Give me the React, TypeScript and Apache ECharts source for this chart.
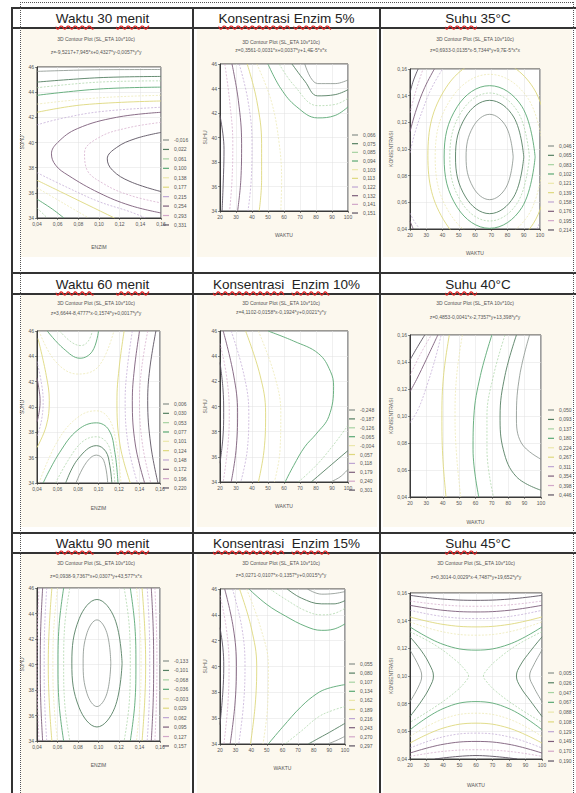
import React, { useEffect, useRef } from "react";
import * as echarts from "echarts";

type Pt = [number, number];
type Piece = [number, Pt[]];

// ---------- texts ----------
const headerTexts = [
  ["Waktu 30 menit", "Konsentrasi Enzim 5%", "Suhu 35°C"],
  ["Waktu 60 menit", "Konsentrasi  Enzim 10%", "Suhu 40°C"],
  ["Waktu 90 menit", "Konsentrasi  Enzim 15%", "Suhu 45°C"],
];
const misspelled = ["Waktu", "menit", "Konsentrasi", "Enzim", "Suhu"];
const plotTitle = "3D Contour Plot (SL_ETA 10v*10c)";
const equations = [
  "z=-9,5217+7,945*x+0,4327*y-0,0057*y*y",
  "z=0,3561-0,0031*x+0,0037*y+1,4E-5*x*x",
  "z=0,6933-0,0135*x-5,7344*y+9,7E-5*x*x",
  "z=3,6644-8,4777*x-0,1574*y+0,0017*y*y",
  "z=4,1102-0,0158*x-0,1924*y+0,0021*y*y",
  "z=0,4853-0,0041*x-2,7357*y+13,398*y*y",
  "z=0,0938-9,7367*x+0,0307*y+43,577*x*x",
  "z=3,0271-0,0107*x-0,1357*y+0,0015*y*y",
  "z=0,3014-0,0029*x-4,7487*y+19,652*y*y",
];

// ---------- axis ticks ----------
const enzimTicks = [0.04, 0.06, 0.08, 0.1, 0.12, 0.14, 0.16];
const enzimStep = 0.02;
const suhuTicks = [34, 36, 38, 40, 42, 44, 46];
const suhuStep = 2;
const waktuTicks = [20, 30, 40, 50, 60, 70, 80, 90, 100];
const waktuStep = 10;

// ---------- legend levels ----------
const c1Levels = ["-0,016", "0,022", "0,061", "0,100", "0,138", "0,177", "0,215", "0,254", "0,293", "0,331"];
const c2Levels = ["0,066", "0,075", "0,085", "0,094", "0,103", "0,113", "0,122", "0,132", "0,141", "0,151"];
const c3Levels = ["0,046", "0,065", "0,083", "0,102", "0,121", "0,139", "0,158", "0,176", "0,195", "0,214"];
const c4Levels = ["0,006", "0,030", "0,053", "0,077", "0,101", "0,124", "0,148", "0,172", "0,196", "0,220"];
const c5Levels = ["-0,248", "-0,187", "-0,126", "-0,065", "-0,004", "0,057", "0,118", "0,179", "0,240", "0,301"];
const c6Levels = ["0,050", "0,093", "0,137", "0,180", "0,224", "0,267", "0,311", "0,354", "0,398", "0,446"];
const c7Levels = ["-0,133", "-0,101", "-0,068", "-0,036", "-0,003", "0,029", "0,062", "0,095", "0,127", "0,157"];
const c8Levels = ["0,055", "0,080", "0,107", "0,134", "0,162", "0,189", "0,216", "0,243", "0,270", "0,297"];
const c9Levels = ["0,005", "0,026", "0,047", "0,067", "0,088", "0,108", "0,129", "0,149", "0,170", "0,190"];

// ---------- contour lines [level, points] ----------
const c1Contours: Piece[] = [
  [9, [[0.16, 40.8], [0.135, 40.3], [0.117, 39.6], [0.108, 38.7], [0.113, 37.8], [0.13, 36.9], [0.16, 36.1]]],
  [8, [[0.16, 41.6], [0.127, 41.15], [0.1, 40.4], [0.086, 39.2], [0.088, 37.9], [0.105, 36.7], [0.13, 35.8], [0.16, 35.2]]],
  [7, [[0.16, 42.4], [0.117, 42.0], [0.079, 41.1], [0.06, 40.0], [0.054, 39.1], [0.058, 38.2], [0.07, 37.4], [0.1, 36.0], [0.13, 35.0], [0.16, 34.4]]],
  [6, [[0.04, 41.4], [0.063, 41.9], [0.101, 42.45], [0.16, 42.8]]],
  [6, [[0.04, 37.6], [0.07, 36.4], [0.1, 35.3], [0.13, 34.5], [0.145, 34]]],
  [5, [[0.04, 42.4], [0.085, 43.0], [0.16, 43.3]]],
  [5, [[0.04, 37.0], [0.07, 35.8], [0.095, 34.8], [0.115, 34]]],
  [4, [[0.04, 43.05], [0.1, 43.55], [0.16, 43.75]]],
  [4, [[0.04, 36.4], [0.065, 35.2], [0.09, 34]]],
  [3, [[0.04, 43.75], [0.1, 44.25], [0.16, 44.4]]],
  [3, [[0.04, 35.5], [0.055, 34.7], [0.066, 34]]],
  [2, [[0.04, 44.35], [0.1, 44.8], [0.16, 44.9]]],
  [2, [[0.04, 34.8], [0.05, 34]]],
  [1, [[0.04, 44.8], [0.1, 45.15], [0.16, 45.25]]],
  [0, [[0.04, 45.65], [0.1, 45.78], [0.16, 45.8]]],
];

const c2Contours: Piece[] = [
  [9, [[20, 41.8], [21.8, 40.3], [22.5, 39], [22.2, 37], [21.3, 34]]],
  [8, [[23, 46], [26, 43], [28, 39.5], [27.5, 36.5], [26, 34]]],
  [7, [[27.5, 46], [31.5, 43], [33.5, 39.5], [33, 36.5], [31, 34]]],
  [6, [[32, 46], [37.5, 43], [40, 39.5], [39.5, 36.5], [37.5, 34]]],
  [5, [[37, 46], [43, 43], [46, 39.5], [46, 36.5], [44.5, 34]]],
  [4, [[43, 46], [52, 43], [57, 39.5], [58.5, 36.5], [58, 34]]],
  [3, [[50, 46], [58, 44], [68, 42.5], [81, 41.6], [92, 41.8], [100, 42.5]]],
  [2, [[57, 46], [66, 44.3], [81, 42.6], [92, 42.7], [100, 43.2]]],
  [1, [[65, 46], [73, 44.6], [81, 43.4], [92, 43.5], [100, 43.9]]],
  [0, [[73, 46], [81, 44.4], [92, 44.4], [100, 44.7]]],
];

const c3Contours: Piece[] = [
  [0, [[83.5, 0.094], [79.2, 0.1166], [69, 0.126], [58.8, 0.1166], [54.5, 0.094], [58.8, 0.0714], [69, 0.062], [79.2, 0.0714], [83.5, 0.094]]],
  [1, [[90, 0.094], [83.8, 0.124], [69, 0.1365], [54.2, 0.124], [48, 0.094], [54.2, 0.064], [69, 0.0515], [83.8, 0.064], [90, 0.094]]],
  [2, [[93.5, 0.094], [86.3, 0.128], [69, 0.142], [51.7, 0.128], [44.5, 0.094], [51.7, 0.06], [69, 0.046], [86.3, 0.06], [93.5, 0.094]]],
  [3, [[97, 0.094], [88.8, 0.132], [69, 0.1475], [49.2, 0.132], [41, 0.094], [49.2, 0.056], [69, 0.0405], [88.8, 0.056], [97, 0.094]]],
  [4, [[102.5, 0.094], [92.7, 0.1378], [69, 0.156], [45.3, 0.1378], [35.5, 0.094], [45.3, 0.0502], [69, 0.032], [92.7, 0.0502], [102.5, 0.094]]],
  [5, [[107, 0.095], [95.9, 0.1459], [69, 0.167], [42.1, 0.1459], [31, 0.095], [42.1, 0.0441], [69, 0.023], [95.9, 0.0441], [107, 0.095]]],
  [6, [[20, 0.097], [23, 0.112], [28, 0.13], [33, 0.145], [40, 0.16]]],
  [6, [[20, 0.052], [22.5, 0.046], [26, 0.04]]],
  [6, [[98, 0.04], [100, 0.045]]],
  [7, [[20, 0.113], [24, 0.13], [29, 0.146], [35, 0.16]]],
  [7, [[20, 0.046], [22, 0.04]]],
  [8, [[20, 0.127], [23, 0.141], [28, 0.16]]],
  [9, [[20, 0.142], [22, 0.151], [25, 0.16]]],
];

const c4Contours: Piece[] = [
  [0, [[0.078, 34], [0.088, 35.6], [0.098, 36.2], [0.105, 35.8], [0.109, 34]]],
  [1, [[0.068, 34], [0.08, 35.9], [0.098, 36.95], [0.107, 36.5], [0.111, 35.4], [0.113, 34]]],
  [2, [[0.058, 34], [0.072, 36], [0.085, 37.3], [0.098, 37.65], [0.108, 37.2], [0.113, 36], [0.116, 34]]],
  [2, [[0.062, 46], [0.074, 45.1], [0.083, 44.85], [0.09, 45.2], [0.094, 46]]],
  [3, [[0.046, 34], [0.062, 36.4], [0.08, 38.2], [0.098, 38.75], [0.11, 38.2], [0.116, 36.4], [0.119, 34]]],
  [3, [[0.05, 46], [0.066, 44.6], [0.082, 43.85], [0.094, 44.4], [0.1, 46]]],
  [4, [[0.042, 34], [0.06, 37.3], [0.08, 39.2], [0.098, 39.7], [0.11, 39.1], [0.117, 37.3], [0.122, 34]]],
  [4, [[0.042, 46], [0.058, 43.6], [0.08, 42.6], [0.1, 43.2], [0.115, 46]]],
  [5, [[0.125, 46], [0.12, 43], [0.118, 40.5], [0.121, 37], [0.131, 34]]],
  [5, [[0.041, 45.4], [0.049, 42.5], [0.052, 40.5], [0.049, 38.5], [0.04, 36.8]]],
  [6, [[0.133, 46], [0.128, 43], [0.126, 40.5], [0.129, 37], [0.138, 34]]],
  [6, [[0.04, 43.6], [0.0445, 41.8], [0.046, 40.5], [0.0445, 39], [0.04, 37.6]]],
  [7, [[0.14, 46], [0.135, 43], [0.133, 40.5], [0.136, 37], [0.145, 34]]],
  [7, [[0.04, 42.3], [0.0423, 41.2], [0.043, 40.5], [0.0423, 39.7], [0.04, 38.8]]],
  [8, [[0.148, 46], [0.142, 43], [0.14, 40.5], [0.143, 37], [0.151, 34]]],
  [9, [[0.156, 46], [0.15, 43], [0.148, 40.5], [0.151, 37], [0.158, 34]]],
];

const c5Contours: Piece[] = [
  [9, [[20, 43.5], [21.8, 41.5], [22.3, 39.5], [21.8, 37.5], [20, 35.5]]],
  [8, [[20, 45], [24, 42.5], [25.8, 39.5], [25, 37], [22, 34]]],
  [7, [[22, 46], [28.5, 42.5], [31, 39.5], [30, 36.5], [27, 34]]],
  [6, [[27, 46], [35, 42.5], [38, 39.5], [37, 36.5], [33, 34]]],
  [5, [[36, 46], [45, 42.5], [48.5, 39.5], [47.5, 36.5], [44, 34]]],
  [4, [[44, 46], [54, 42.5], [58, 39.5], [57.5, 36.5], [54, 34]]],
  [3, [[50, 46], [66, 45.2], [81.6, 44.2], [89, 42.8], [91, 41.6], [88, 39.2], [80, 37.8], [73, 36.8], [66, 35.3], [60.7, 34]]],
  [2, [[69, 34], [80, 35.3], [90, 36.8], [100, 38.5]]],
  [1, [[77, 34], [88, 35.2], [100, 36.5]]],
  [0, [[89, 34], [95, 34.4], [100, 35]]],
];

const c6Contours: Piece[] = [
  [9, [[20, 0.1415], [24, 0.15], [29, 0.16]]],
  [8, [[20, 0.13], [26, 0.145], [33, 0.16]]],
  [7, [[20, 0.118], [24, 0.127], [30, 0.142], [37, 0.16]]],
  [6, [[20, 0.095], [25, 0.105], [31, 0.125], [36, 0.145], [39, 0.16]]],
  [5, [[44, 0.16], [40.5, 0.13], [39.5, 0.1], [40, 0.07], [42, 0.04]]],
  [4, [[52, 0.16], [48.5, 0.13], [47.5, 0.1], [48.5, 0.07], [51, 0.04]]],
  [3, [[70, 0.16], [63, 0.13], [59, 0.1], [58.5, 0.075], [62, 0.04]]],
  [2, [[78, 0.16], [71, 0.13], [67, 0.1], [67, 0.075], [71, 0.04]]],
  [1, [[85, 0.16], [78, 0.13], [75, 0.1], [77, 0.075], [85, 0.055], [100, 0.045]]],
  [0, [[93, 0.16], [87, 0.13], [85, 0.1], [88, 0.08], [100, 0.068]]],
];

const c7Contours: Piece[] = [
  [0, [[0.112, 40.1], [0.1081, 42.5], [0.0985, 43.5], [0.0889, 42.5], [0.085, 40.1], [0.0889, 37.7], [0.0985, 36.7], [0.1081, 37.7], [0.112, 40.1]]],
  [1, [[0.123, 40.1], [0.1158, 43.6], [0.0985, 45.1], [0.0812, 43.6], [0.074, 40.1], [0.0812, 36.6], [0.0985, 35.1], [0.1158, 36.6], [0.123, 40.1]]],
  [2, [[0.072, 46], [0.067, 43], [0.066, 40], [0.067, 37], [0.072, 34]]],
  [2, [[0.125, 46], [0.13, 43], [0.131, 40], [0.13, 37], [0.125, 34]]],
  [3, [[0.066, 46], [0.0615, 43], [0.0605, 40], [0.0615, 37], [0.066, 34]]],
  [3, [[0.131, 46], [0.1355, 43], [0.1365, 40], [0.1355, 37], [0.131, 34]]],
  [4, [[0.06, 46], [0.0565, 43], [0.0555, 40], [0.0565, 37], [0.06, 34]]],
  [4, [[0.137, 46], [0.1405, 43], [0.1415, 40], [0.1405, 37], [0.137, 34]]],
  [5, [[0.0545, 46], [0.052, 43], [0.051, 40], [0.052, 37], [0.0545, 34]]],
  [5, [[0.1425, 46], [0.145, 43], [0.146, 40], [0.145, 37], [0.1425, 34]]],
  [6, [[0.0495, 46], [0.0475, 43], [0.047, 40], [0.0475, 37], [0.0495, 34]]],
  [6, [[0.1475, 46], [0.1495, 43], [0.15, 40], [0.1495, 37], [0.1475, 34]]],
  [7, [[0.0455, 46], [0.0437, 43], [0.0432, 40], [0.0437, 37], [0.0455, 34]]],
  [7, [[0.1515, 46], [0.1533, 43], [0.1538, 40], [0.1533, 37], [0.1515, 34]]],
  [8, [[0.042, 46], [0.0405, 43], [0.04, 40], [0.0405, 37], [0.042, 34]]],
  [8, [[0.155, 46], [0.1565, 43], [0.157, 40], [0.1565, 37], [0.155, 34]]],
];

const c8Contours: Piece[] = [
  [9, [[20, 43], [21.8, 41.5], [22.4, 40], [21.8, 38], [20, 35.5]]],
  [8, [[20, 45.5], [24, 43], [25.8, 40], [25, 37], [22.5, 34]]],
  [7, [[23, 46], [28.5, 43], [30.5, 40], [29.5, 37], [26.5, 34]]],
  [6, [[28, 46], [34, 43], [36, 40], [35, 37], [32, 34]]],
  [5, [[32.5, 46], [40, 43], [43.5, 40], [42.5, 37], [39.5, 34]]],
  [4, [[37, 46], [46, 43], [51, 40], [50.5, 37], [47.5, 34]]],
  [3, [[38.5, 46], [50, 44.8], [62, 43.9], [75, 43.1], [85, 42.8], [93, 42.9], [100, 43.3]]],
  [3, [[50.9, 34], [60, 35.3], [72, 36.9], [82, 37.9], [89, 38.3], [100, 38.6]]],
  [2, [[52, 46], [62, 45.2], [75, 44.3], [85, 44], [93, 44.1], [100, 44.5]]],
  [2, [[61.6, 34], [72, 35], [83, 36.1], [92, 36.6], [100, 36.9]]],
  [1, [[63, 46], [72, 45.3], [85, 44.85], [93, 44.85], [100, 45.1]]],
  [1, [[76.5, 34], [84, 34.5], [90, 34.9], [100, 35.6]]],
  [0, [[76, 46], [85, 45.6], [93, 45.65], [100, 45.8]]],
  [0, [[89, 34], [95, 34.3], [100, 34.6]]],
];

const c9Contours: Piece[] = [
  [0, [[20, 0.1187], [25, 0.108], [27.1, 0.1], [25, 0.092], [20, 0.0815]]],
  [0, [[100, 0.1187], [95, 0.108], [92.5, 0.1], [95, 0.092], [100, 0.0815]]],
  [1, [[20, 0.1283], [27, 0.118], [32, 0.108], [34.2, 0.1], [32, 0.092], [27, 0.082], [20, 0.0707]]],
  [1, [[100, 0.1283], [93, 0.118], [87, 0.108], [84.5, 0.1], [87, 0.092], [93, 0.082], [100, 0.0707]]],
  [2, [[20, 0.132], [35, 0.1225], [48, 0.111], [54, 0.1035], [55.5, 0.1], [54, 0.0965], [48, 0.089], [35, 0.0775], [20, 0.0665]]],
  [2, [[100, 0.132], [85, 0.1225], [72, 0.111], [66, 0.1035], [64.5, 0.1], [66, 0.0965], [72, 0.089], [85, 0.0775], [100, 0.0665]]],
  [3, [[20, 0.1355], [40, 0.1229], [60, 0.1187], [80, 0.1229], [100, 0.1355]]],
  [3, [[20, 0.0611], [40, 0.0764], [60, 0.0815], [80, 0.0764], [100, 0.0611]]],
  [4, [[20, 0.1391], [40, 0.1319], [60, 0.1295], [80, 0.1319], [100, 0.1391]]],
  [4, [[20, 0.0563], [40, 0.0689], [60, 0.0731], [80, 0.0689], [100, 0.0563]]],
  [5, [[20, 0.1427], [40, 0.1373], [60, 0.1355], [80, 0.1373], [100, 0.1427]]],
  [5, [[20, 0.0515], [40, 0.0623], [60, 0.0659], [80, 0.0623], [100, 0.0515]]],
  [6, [[20, 0.1475], [40, 0.143], [60, 0.1415], [80, 0.143], [100, 0.1475]]],
  [6, [[20, 0.0479], [40, 0.056], [60, 0.0587], [80, 0.056], [100, 0.0479]]],
  [7, [[20, 0.1511], [40, 0.1475], [60, 0.1463], [80, 0.1475], [100, 0.1511]]],
  [7, [[20, 0.0443], [40, 0.0506], [60, 0.0527], [80, 0.0506], [100, 0.0443]]],
  [8, [[20, 0.1542], [40, 0.1514], [60, 0.1504], [80, 0.1514], [100, 0.1542]]],
  [8, [[20, 0.0419], [40, 0.0455], [60, 0.0467], [80, 0.0455], [100, 0.0419]]],
  [9, [[20, 0.1583], [40, 0.1556], [60, 0.1547], [80, 0.1556], [100, 0.1583]]],
  [9, [[35, 0.04], [60, 0.0425], [85, 0.04]]],
];

// ---------- styles (not data) ----------
const levelStyles = [
  { color: "#87908a", type: "solid", width: 0.8 },
  { color: "#557f62", type: "solid", width: 0.9 },
  { color: "#a6d2a2", type: [2, 1.5], width: 0.7 },
  { color: "#5aa874", type: "solid", width: 0.9 },
  { color: "#ebe7ac", type: [2, 1.5], width: 0.7 },
  { color: "#ded87e", type: "solid", width: 0.9 },
  { color: "#bea6d3", type: [2, 1.5], width: 0.7 },
  { color: "#7d5e7b", type: "solid", width: 0.9 },
  { color: "#d2a7c8", type: [2, 1.5], width: 0.7 },
  { color: "#5b5261", type: "solid", width: 0.9 },
];

const FONT = "'Liberation Sans', Arial, sans-serif";

const fmtEnzim = (v: number) => v.toFixed(2).replace(".", ",");
const fmtInt = (v: number) => String(Math.round(v));
const enzimAxis = { ticks: enzimTicks, step: enzimStep, fmt: fmtEnzim };
const suhuAxis = { ticks: suhuTicks, step: suhuStep, fmt: fmtInt };
const waktuAxis = { ticks: waktuTicks, step: waktuStep, fmt: fmtInt };

type Layout = { grid: number[]; legend: number[]; title: number[]; xGap: number; yGap: number };
const panels = [
  { levels: c1Levels, contours: c1Contours, x: enzimAxis, y: suhuAxis, xName: "ENZIM", yName: "SUHU",
    layout: { grid: [37, 67, 124, 151], legend: [163, 140, 9.44], title: [96, 39, 51.5], xGap: 26, yGap: 8 } as Layout },
  { levels: c2Levels, contours: c2Contours, x: waktuAxis, y: suhuAxis, xName: "WAKTU", yName: "SUHU",
    layout: { grid: [220, 64, 128, 147], legend: [352, 135, 8.67], title: [281, 42, 50], xGap: 21, yGap: 10 } as Layout },
  { levels: c3Levels, contours: c3Contours, x: waktuAxis, y: enzimAxis, xName: "WAKTU", yName: "KONSENTRASI",
    layout: { grid: [410, 69, 130, 160], legend: [548, 146, 9.33], title: [475, 39, 50], xGap: 21, yGap: 14 } as Layout },
  { levels: c4Levels, contours: c4Contours, x: enzimAxis, y: suhuAxis, xName: "ENZIM", yName: "SUHU",
    layout: { grid: [37, 331, 123, 152], legend: [163, 404, 9.33], title: [96, 303, 313], xGap: 22, yGap: 9.5 } as Layout },
  { levels: c5Levels, contours: c5Contours, x: waktuAxis, y: suhuAxis, xName: "WAKTU", yName: "SUHU",
    layout: { grid: [220, 331, 128, 151], legend: [349, 410, 8.9], title: [281, 303, 312], xGap: 21, yGap: 10 } as Layout },
  { levels: c6Levels, contours: c6Contours, x: waktuAxis, y: enzimAxis, xName: "WAKTU", yName: "KONSENTRASI",
    layout: { grid: [410, 335, 131, 162], legend: [548, 410, 9.44], title: [475, 303, 317], xGap: 22, yGap: 14 } as Layout },
  { levels: c7Levels, contours: c7Contours, x: enzimAxis, y: suhuAxis, xName: "ENZIM", yName: "SUHU",
    layout: { grid: [37, 588, 123, 153], legend: [163, 661, 9.44], title: [96, 563, 576], xGap: 21, yGap: 9.5 } as Layout },
  { levels: c8Levels, contours: c8Contours, x: waktuAxis, y: suhuAxis, xName: "WAKTU", yName: "SUHU",
    layout: { grid: [220, 589, 125, 155], legend: [349, 664, 9.1], title: [281, 563, 575], xGap: 21, yGap: 10 } as Layout },
  { levels: c9Levels, contours: c9Contours, x: waktuAxis, y: enzimAxis, xName: "WAKTU", yName: "KONSENTRASI",
    layout: { grid: [410, 593, 132, 166], legend: [548, 673, 9.78], title: [476, 563, 577], xGap: 23, yGap: 14 } as Layout },
];

function axisOpt(ax: any, i: number, name: string, gap: number) {
  return {
    type: "value",
    gridIndex: i,
    min: ax.ticks[0],
    max: ax.ticks[ax.ticks.length - 1],
    interval: ax.step,
    name,
    nameLocation: "middle",
    nameGap: gap,
    nameTextStyle: { fontSize: 5, color: "#555", fontFamily: FONT },
    axisLine: { show: true, lineStyle: { color: "#3a3a3a", width: 1 } },
    axisTick: { show: true, length: 2, lineStyle: { color: "#3a3a3a", width: 0.6 } },
    axisLabel: { fontSize: 5, color: "#555", margin: 3, formatter: ax.fmt, fontFamily: FONT },
    splitLine: { show: true, lineStyle: { color: "#e0e0e0", width: 0.5 } },
  };
}

function buildOption() {
  const series: any[] = [];
  panels.forEach((p, i) => {
    p.levels.forEach((name, lv) => {
      const pieces = p.contours.filter((c) => c[0] === lv);
      const st = levelStyles[lv];
      const list = pieces.length ? pieces : [[lv, []] as Piece];
      list.forEach((pc) => {
        series.push({
          type: "line",
          name,
          xAxisIndex: i,
          yAxisIndex: i,
          data: pc[1],
          smooth: 0.4,
          symbol: "none",
          silent: true,
          clip: true,
          lineStyle: { color: st.color, width: st.width, type: st.type },
          itemStyle: { color: st.color },
        });
      });
    });
  });

  const graphic: any[] = [];
  panels.forEach((p, i) => {
    const [cx, y1, y2] = p.layout.title;
    graphic.push({
      type: "text", x: cx, y: y1, silent: true,
      style: { text: plotTitle, fontSize: 5, fontFamily: FONT, fill: "#555", align: "center", verticalAlign: "middle", textAlign: "center", textVerticalAlign: "middle" },
    });
    graphic.push({
      type: "text", x: cx, y: y2, silent: true,
      style: { text: equations[i], fontSize: 5, fontFamily: FONT, fill: "#555", align: "center", verticalAlign: "middle", textAlign: "center", textVerticalAlign: "middle" },
    });
  });

  return {
    animation: false,
    textStyle: { fontFamily: FONT },
    grid: panels.map((p) => ({
      left: p.layout.grid[0], top: p.layout.grid[1], width: p.layout.grid[2], height: p.layout.grid[3],
      show: true, backgroundColor: "#ffffff", borderColor: "#3a3a3a", borderWidth: 1,
    })),
    xAxis: panels.map((p, i) => axisOpt(p.x, i, p.xName, p.layout.xGap)),
    yAxis: panels.map((p, i) => axisOpt(p.y, i, p.yName, p.layout.yGap)),
    legend: panels.map((p) => ({
      orient: "vertical",
      left: p.layout.legend[0],
      top: p.layout.legend[1] - 2.5,
      icon: "rect",
      itemWidth: 6,
      itemHeight: 1.2,
      itemGap: p.layout.legend[2] - 5,
      padding: 0,
      selectedMode: false,
      data: p.levels,
      textStyle: { fontSize: 5, color: "#555", lineHeight: 5, height: 5, fontFamily: FONT },
    })),
    graphic,
    series,
  };
}

// ---------- page frame (layout only) ----------
const colBounds = [[12, 193], [193, 380], [380, 576]];
const headerRows = [[8, 28], [273, 294], [533, 553]];
const imageCols = [[21, 190], [197, 377], [383, 572]];
const imageRows = [[29, 257], [295, 527], [554, 793]];

function HeaderText({ text }: { text: string }) {
  const parts = text.split(/(\s+)/);
  return (
    <>
      {parts.map((t, k) =>
        misspelled.includes(t) ? (
          <span key={k} style={{ textDecorationLine: "underline", textDecorationStyle: "wavy", textDecorationColor: "#e02020", textUnderlineOffset: "2px" }}>{t}</span>
        ) : (
          <span key={k}>{t}</span>
        )
      )}
    </>
  );
}

export default function App() {
  const ref = useRef<HTMLDivElement>(null);
  useEffect(() => {
    if (!ref.current) return;
    const chart = echarts.init(ref.current, null, { renderer: "svg" });
    chart.setOption(buildOption() as any);
    return () => chart.dispose();
  }, []);

  const lines: React.ReactNode[] = [];
  headerRows.forEach(([a, b], r) => {
    [a, b].forEach((y, k) =>
      lines.push(<div key={`h${r}${k}`} style={{ position: "absolute", left: 12, top: y - 1, width: 564, height: 2, background: "#333" }} />)
    );
  });
  [12, 193, 380].forEach((x, k) =>
    lines.push(<div key={`v${k}`} style={{ position: "absolute", left: x - 1, top: 7, width: 2, height: 786, background: "#333" }} />)
  );
  lines.push(<div key="dt" style={{ position: "absolute", left: 20, top: 2, width: 553, height: 0, borderTop: "1px dotted #555" }} />);
  lines.push(<div key="dl" style={{ position: "absolute", left: 20, top: 2, width: 0, height: 791, borderLeft: "1px dotted #555" }} />);
  lines.push(<div key="dr" style={{ position: "absolute", left: 573, top: 2, width: 0, height: 791, borderLeft: "1px dotted #555" }} />);

  return (
    <div style={{ position: "absolute", left: 0, top: 0, width: 576, height: 793, background: "#ffffff", overflow: "hidden" }}>
      {imageRows.map(([t, b], r) =>
        imageCols.map(([l, rr], c) => (
          <div key={`img${r}${c}`} style={{ position: "absolute", left: l, top: t, width: rr - l, height: b - t, background: "#fcf8ee" }} />
        ))
      )}
      {lines}
      <div ref={ref} style={{ position: "absolute", left: 0, top: 0, width: 576, height: 793 }} />
      {headerRows.map(([t, b], r) =>
        colBounds.map(([l, rr], c) => (
          <div key={`hd${r}${c}`} style={{ position: "absolute", left: l, top: t + 1, width: rr - l, height: b - t - 1, display: "flex", alignItems: "center", justifyContent: "center", whiteSpace: "pre", fontFamily: FONT, fontSize: 13.5, color: "#222" }}>
            <HeaderText text={headerTexts[r][c]} />
          </div>
        ))
      )}
    </div>
  );
}
